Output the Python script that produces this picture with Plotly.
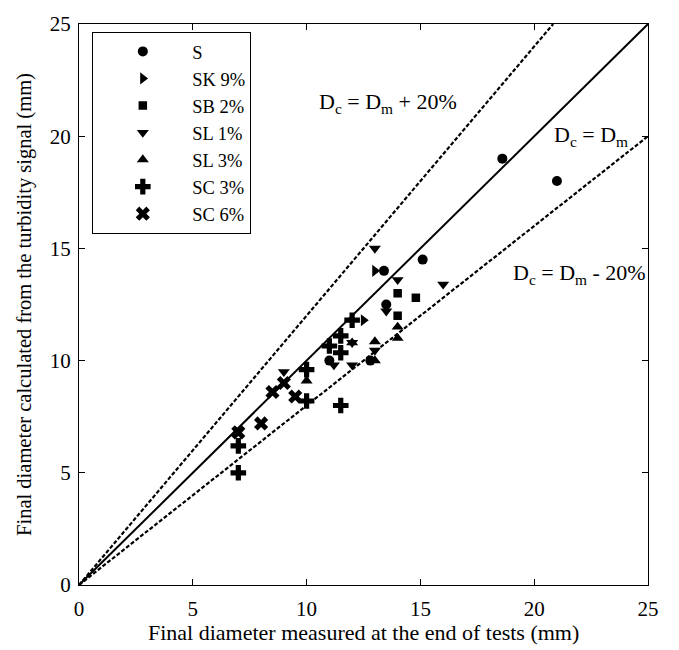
import plotly.graph_objects as go

# ---- data ----
S_x = [11.0, 12.8, 13.4, 13.5, 15.1, 18.6, 21.0]
S_y = [10.0, 10.0, 14.0, 12.5, 14.5, 19.0, 18.0]

SK_x = [12.5, 13.0]
SK_y = [11.8, 14.0]

SB_x = [14.0, 14.0, 14.8]
SB_y = [13.0, 12.0, 12.8]

SL1_x = [9.0, 11.2, 12.0, 12.0, 13.0, 13.0, 13.5, 14.0, 16.0]
SL1_y = [9.5, 9.8, 9.8, 10.8, 10.45, 15.0, 12.2, 13.6, 13.4]

SL3_x = [10.0, 12.0, 13.0, 13.0, 14.0, 14.0]
SL3_y = [9.1, 10.8, 10.85, 10.0, 11.5, 11.0]

SC3_x = [7.0, 7.0, 10.0, 10.0, 11.0, 11.5, 11.5, 11.5, 12.0]
SC3_y = [5.0, 6.2, 8.2, 9.6, 10.65, 11.1, 10.35, 8.0, 11.8]

SC6_x = [7.0, 8.0, 8.5, 9.0, 9.5]
SC6_y = [6.8, 7.2, 8.6, 9.0, 8.4]

series_names = ["S", "SK 9%", "SB 2%", "SL 1%", "SL 3%", "SC 3%", "SC 6%"]
series_x = [S_x, SK_x, SB_x, SL1_x, SL3_x, SC3_x, SC6_x]
series_y = [S_y, SK_y, SB_y, SL1_y, SL3_y, SC3_y, SC6_y]
symbols = ["circle", "triangle-right", "square", "triangle-down", "triangle-up", "cross", "x"]
sizes = [10, 10.5, 8.5, 10.5, 10.5, 13, 12.5]

# reference lines
line_x_eq = [0, 25]
line_y_eq = [0, 25]
line_x_up = [0, 25 / 1.2]
line_y_up = [0, 25]
line_x_lo = [0, 25]
line_y_lo = [0, 20]

x_title = "Final diameter measured at the end of tests (mm)"
y_title = "Final diameter calculated from the turbidity signal (mm)"

FONT = "Liberation Serif, Times New Roman, serif"

fig = go.Figure()

fig.add_trace(go.Scatter(x=line_x_up, y=line_y_up, mode="lines", showlegend=False,
                         line=dict(color="black", width=2.2, dash="4px,2px")))
fig.add_trace(go.Scatter(x=line_x_eq, y=line_y_eq, mode="lines", showlegend=False,
                         line=dict(color="black", width=2)))
fig.add_trace(go.Scatter(x=line_x_lo, y=line_y_lo, mode="lines", showlegend=False,
                         line=dict(color="black", width=2.2, dash="4px,2px")))

for name, xs, ys, sym, sz in zip(series_names, series_x, series_y, symbols, sizes):
    fig.add_trace(go.Scatter(x=xs, y=ys, mode="markers", name=name,
                             marker=dict(symbol=sym, size=sz, color="black",
                                         line=dict(width=0))))

annots = [
    (10.45, 21.5, "D<sub>c</sub> = D<sub>m</sub> + 20%"),
    (20.8, 20.0, "D<sub>c</sub> = D<sub>m</sub>"),
    (19.0, 13.85, "D<sub>c</sub> = D<sub>m</sub> - 20%"),
]
for ax_, ay_, t in annots:
    fig.add_annotation(x=ax_, y=ay_, text=t, showarrow=False, xanchor="left",
                       yanchor="middle", font=dict(family=FONT, size=22, color="black"))

# x-axis title placed under the tick labels
fig.add_annotation(x=0.5, y=-0.084, xref="paper", yref="paper", text=x_title,
                   showarrow=False, xanchor="center", yanchor="middle",
                   font=dict(family=FONT, size=22, color="black"))

axis_common = dict(range=[0, 25], tickvals=[0, 5, 10, 15, 20, 25], ticks="inside",
                   ticklen=6, tickcolor="black", showline=True, linecolor="black",
                   linewidth=1, mirror="ticks", showgrid=False, zeroline=False,
                   tickfont=dict(family=FONT, size=21, color="black"))

fig.update_xaxes(**axis_common, ticklabelstandoff=5)
fig.update_yaxes(**axis_common, ticklabelstandoff=3,
                 title=dict(text=y_title,
                            font=dict(family=FONT, size=20.5, color="black"), standoff=12))

fig.update_layout(
    width=679, height=650,
    margin=dict(l=79, r=31, t=17, b=65),
    plot_bgcolor="white", paper_bgcolor="white",
    legend=dict(x=0.0234, y=0.986, xanchor="left", yanchor="top",
                bgcolor="white", bordercolor="black", borderwidth=1,
                font=dict(family=FONT, size=18.5, color="black"),
                itemwidth=89, tracegroupgap=0),
    font=dict(family=FONT, color="black"),
)

fig.write_html("out.html", config={"displayModeBar": False},
               post_script="document.body.style.margin='0px';document.body.style.overflow='hidden';")
